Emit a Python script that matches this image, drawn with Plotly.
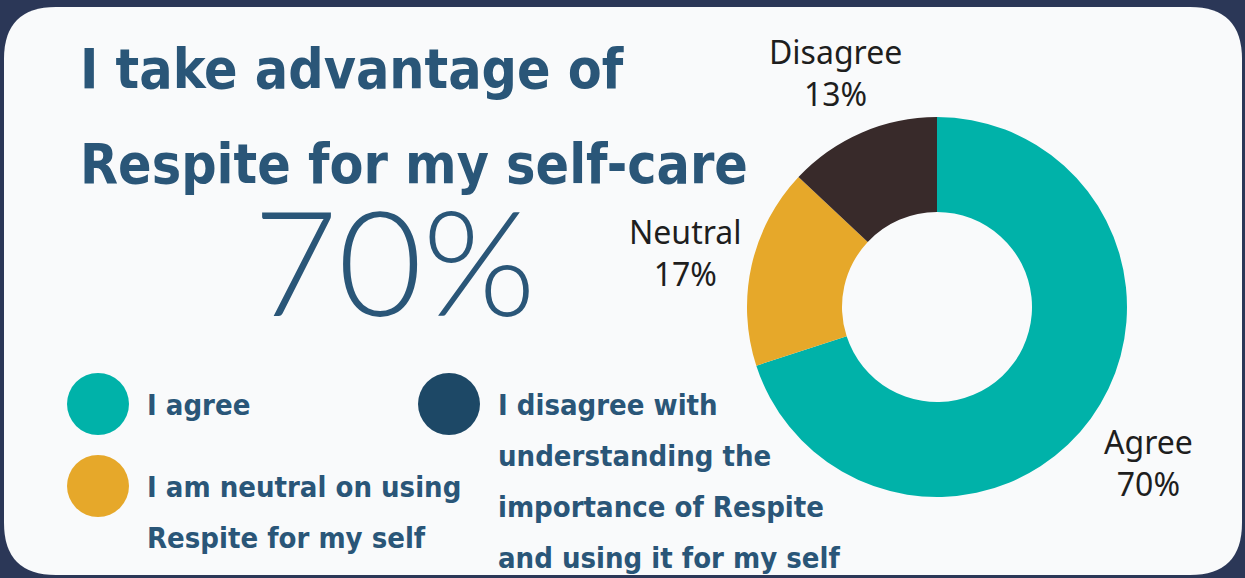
import plotly.graph_objects as go

# ---- data ----
categories = ["Agree", "Neutral", "Disagree"]
values = [70, 17, 13]
slice_colors = ["#00b2a9", "#e6a82a", "#382a2a"]

title_lines = ["I take advantage of", "Respite for my self-care"]
headline = "70%"

legend_items = [
    ("#00b2a9", ["I agree"]),
    ("#e6a82a", ["I am neutral on using", "Respite for my self"]),
    ("#1d4866", ["I disagree with", "understanding the", "importance of Respite", "and using it for my self"]),
]

W, H = 1245, 578
BG = "#2b3757"
CARD = "#f9fafb"
TXT = "#2a5678"
BOLD_FONT = "DejaVu Sans Condensed, sans-serif"
LABEL_FONT = "Noto Sans, Open Sans, sans-serif"

fig = go.Figure()

# donut
cx, cy, r = 937, 307, 190
fig.add_trace(go.Pie(
    labels=categories, values=values, hole=0.5, sort=False,
    direction="clockwise", rotation=0,
    marker=dict(colors=slice_colors, line=dict(width=0)),
    textinfo="none", hoverinfo="label+percent", showlegend=False,
    domain=dict(x=[(cx - r) / W, (cx + r) / W], y=[1 - (cy + r) / H, 1 - (cy - r) / H]),
))

# hidden pixel axes
fig.update_xaxes(range=[0, W], visible=False, fixedrange=True)
fig.update_yaxes(range=[H, 0], visible=False, fixedrange=True)

# card with rounded corners
x0, y0, x1, y1, rr = 4, 7, 1242, 575, 52
path = (f"M {x0+rr},{y0} L {x1-rr},{y0} Q {x1},{y0} {x1},{y0+rr} "
        f"L {x1},{y1-rr} Q {x1},{y1} {x1-rr},{y1} L {x0+rr},{y1} "
        f"Q {x0},{y1} {x0},{y1-rr} L {x0},{y0+rr} Q {x0},{y0} {x0+rr},{y0} Z")
shapes = [dict(type="path", path=path, xref="x", yref="y", fillcolor=CARD,
               line=dict(width=0), layer="below")]

annotations = []
# title
for i, line in enumerate(title_lines):
    annotations.append(dict(x=78, y=69 + i * 95, xref="x", yref="y", text=f"<b>{line}</b>",
                            showarrow=False, xanchor="left", yanchor="middle",
                            font=dict(family=BOLD_FONT, size=55, color=TXT)))
# headline
annotations.append(dict(x=394, y=259, xref="x", yref="y", text=headline, showarrow=False,
                        xanchor="center", yanchor="middle",
                        font=dict(family="Lato, Open Sans, sans-serif", size=146, color=TXT, weight=300)))

# slice labels
label_pos = {"Agree": (1148, 462), "Neutral": (685, 252), "Disagree": (835, 72)}
total = sum(values)
for cat, v in zip(categories, values):
    lx, ly = label_pos[cat]
    annotations.append(dict(x=lx, y=ly, xref="x", yref="y",
                            text=f"{cat}<br>{round(100 * v / total)}%", showarrow=False,
                            xanchor="center", yanchor="middle", align="center",
                            font=dict(family=LABEL_FONT, size=32, color="#1e1e1e")))

# legend
legend_pos = [(98, 404), (98, 486), (449, 404)]
for (col, lines), (lx, ly) in zip(legend_items, legend_pos):
    shapes.append(dict(type="circle", xref="x", yref="y", x0=lx - 31, x1=lx + 31,
                       y0=ly - 31, y1=ly + 31, fillcolor=col, line=dict(width=0)))
    for j, t in enumerate(lines):
        annotations.append(dict(x=lx + 47, y=ly + 1 + j * 51, xref="x", yref="y",
                                text=f"<b>{t}</b>", showarrow=False,
                                xanchor="left", yanchor="middle",
                                font=dict(family=BOLD_FONT, size=29, color=TXT)))

fig.update_layout(
    width=W, height=H, margin=dict(l=0, r=0, t=0, b=0),
    paper_bgcolor=BG, plot_bgcolor="rgba(0,0,0,0)",
    shapes=shapes, annotations=annotations,
)

fig.write_html("out.html", config={"displayModeBar": False})
